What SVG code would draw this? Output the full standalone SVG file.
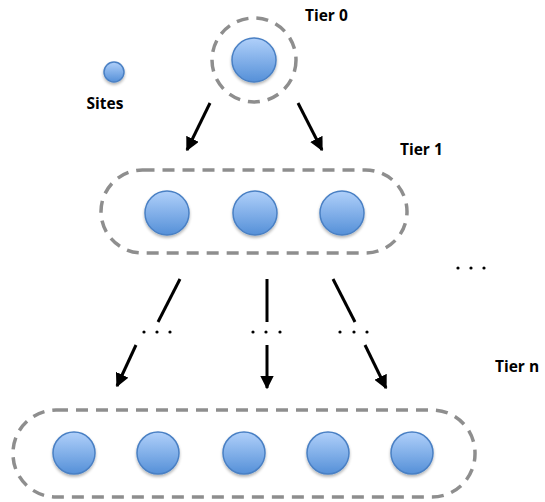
<svg xmlns="http://www.w3.org/2000/svg" width="545" height="502" viewBox="0 0 545 502">
<defs>
<linearGradient id="g" x1="0" y1="0" x2="0" y2="1">
<stop offset="0" stop-color="#b0d0fa"/>
<stop offset="1" stop-color="#5590d8"/>
</linearGradient>
<marker id="ah" viewBox="0 0 10 10" refX="9" refY="5" markerWidth="4.6" markerHeight="4.6" orient="auto" markerUnits="strokeWidth">
<path d="M0,0 L10,5 L0,10 Z" fill="#000"/>
</marker>
<filter id="sh" x="-30%" y="-30%" width="160%" height="160%">
<feGaussianBlur in="SourceAlpha" stdDeviation="1.5"/>
<feOffset dy="2"/>
<feComponentTransfer><feFuncA type="linear" slope="0.3"/></feComponentTransfer>
<feMerge><feMergeNode/><feMergeNode in="SourceGraphic"/></feMerge>
</filter>
</defs>
<style>
.site{fill:url(#g);stroke:#4a80c4;stroke-width:1.5;filter:url(#sh)}
.grp{fill:none;stroke:#8e8e8e;stroke-width:3.5;stroke-dasharray:12 8}
.arr{stroke:#000;stroke-width:3;fill:none;marker-end:url(#ah)}
.ln{stroke:#000;stroke-width:3;fill:none}
.lbl{font-family:"Open Sans","Liberation Sans",sans-serif;font-weight:bold;font-size:15.5px;fill:#000}
.dot{fill:#000}
</style>
<g id="legend">
<circle class="site" cx="114" cy="72" r="10"/>
<text class="lbl" x="105" y="109" text-anchor="middle">Sites</text>
</g>
<g id="tier0">
<circle class="grp" cx="254" cy="60" r="42"/>
<circle class="site" cx="254" cy="60" r="22"/>
<text class="lbl" x="305" y="21">Tier 0</text>
</g>
<g id="tier1">
<rect class="grp" x="101" y="170" width="306" height="83" rx="41.5"/>
<circle class="site" cx="167" cy="213" r="22"/>
<circle class="site" cx="255" cy="213" r="22"/>
<circle class="site" cx="342" cy="213" r="22"/>
<text class="lbl" x="400" y="155">Tier 1</text>
</g>
<g id="tiern">
<rect class="grp" x="13" y="410" width="462" height="87" rx="43"/>
<circle class="site" cx="74" cy="453" r="21"/>
<circle class="site" cx="158" cy="453" r="21"/>
<circle class="site" cx="244" cy="453" r="21"/>
<circle class="site" cx="328" cy="453" r="21"/>
<circle class="site" cx="412" cy="453" r="21"/>
<text class="lbl" x="495" y="372">Tier n</text>
</g>
<g id="connectors">
<line class="arr" x1="210" y1="103" x2="187" y2="150"/>
<line class="arr" x1="298" y1="103" x2="322" y2="150"/>
<line class="ln" x1="180" y1="279" x2="158" y2="322"/>
<line class="ln" x1="267" y1="279" x2="267" y2="322"/>
<line class="ln" x1="333" y1="279" x2="355" y2="322"/>
<line class="arr" x1="136" y1="345" x2="117" y2="386"/>
<line class="arr" x1="267" y1="345" x2="267" y2="388"/>
<line class="arr" x1="365" y1="345" x2="386" y2="388"/>
</g>
<g id="ellipses">
<circle class="dot" cx="144" cy="332" r="1.6"/><circle class="dot" cx="157" cy="332" r="1.6"/><circle class="dot" cx="170" cy="332" r="1.6"/>
<circle class="dot" cx="253" cy="332" r="1.6"/><circle class="dot" cx="266" cy="332" r="1.6"/><circle class="dot" cx="280" cy="332" r="1.6"/>
<circle class="dot" cx="340" cy="332" r="1.6"/><circle class="dot" cx="354" cy="332" r="1.6"/><circle class="dot" cx="367" cy="332" r="1.6"/>
<circle class="dot" cx="458" cy="268" r="1.6"/><circle class="dot" cx="471" cy="268" r="1.6"/><circle class="dot" cx="484" cy="268" r="1.6"/>
</g>
</svg>
